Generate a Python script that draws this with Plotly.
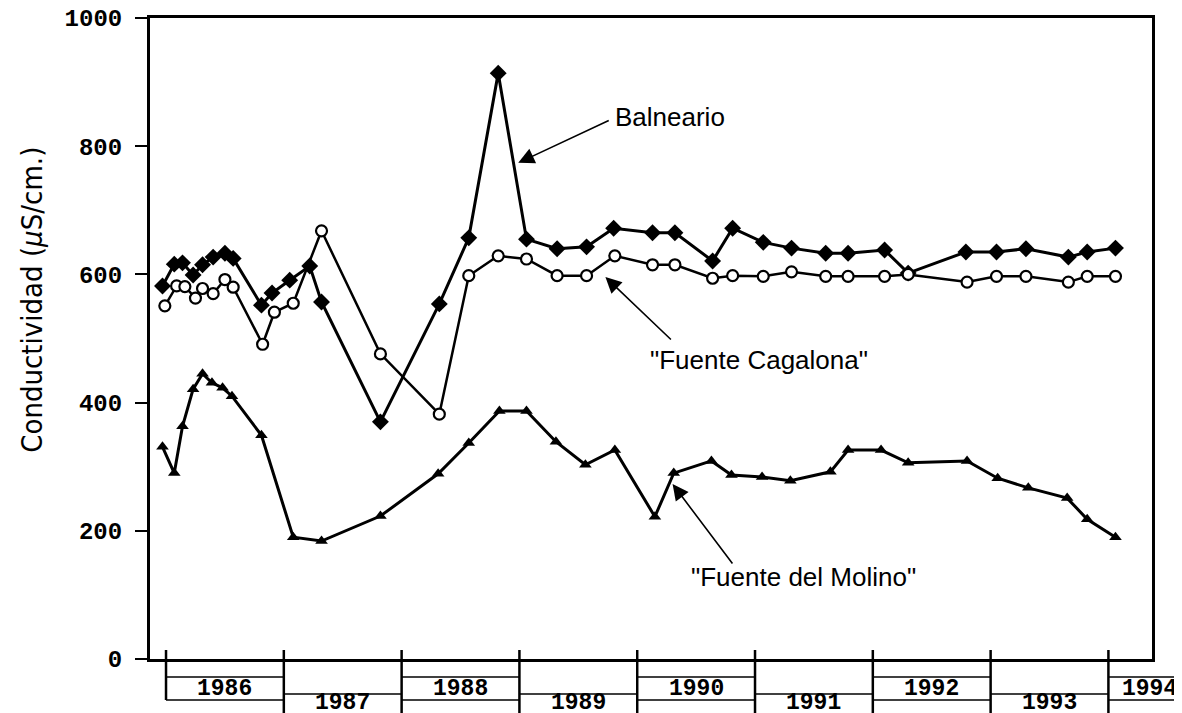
import plotly.graph_objects as go

# ---------------- data ----------------
t_balneario = [1985.97, 1986.07, 1986.14, 1986.23, 1986.31, 1986.40, 1986.50, 1986.57,
               1986.81, 1986.90, 1987.05, 1987.22, 1987.32, 1987.82, 1988.32, 1988.57,
               1988.82, 1989.06, 1989.32, 1989.57, 1989.80, 1990.13, 1990.32, 1990.64,
               1990.81, 1991.07, 1991.31, 1991.60, 1991.79, 1992.10, 1992.30, 1992.79,
               1993.05, 1993.30, 1993.66, 1993.82, 1994.06]
balneario = [582, 616, 618, 599, 615, 627, 633, 625,
             552, 571, 591, 613, 557, 370, 554, 657,
             914, 655, 640, 643, 672, 665, 665, 621,
             672, 650, 641, 633, 633, 638, 602, 635,
             635, 640, 627, 635, 641]

t_cagalona = [1985.99, 1986.09, 1986.16, 1986.25, 1986.31, 1986.40, 1986.50, 1986.57,
              1986.82, 1986.92, 1987.08, 1987.32, 1987.82, 1988.32, 1988.57, 1988.82,
              1989.06, 1989.32, 1989.57, 1989.81, 1990.13, 1990.32, 1990.64, 1990.81,
              1991.07, 1991.31, 1991.60, 1991.79, 1992.10, 1992.30, 1992.80, 1993.05,
              1993.30, 1993.66, 1993.82, 1994.06]
cagalona = [551, 582, 581, 563, 578, 570, 592, 580,
            491, 541, 555, 668, 476, 382, 598, 629,
            624, 598, 598, 629, 615, 615, 594, 598,
            597, 604, 597, 597, 597, 600, 588, 597,
            597, 588, 597, 597]

t_molino = [1985.97, 1986.07, 1986.14, 1986.23, 1986.31, 1986.39, 1986.48, 1986.56,
            1986.81, 1987.08, 1987.32, 1987.82, 1988.31, 1988.57, 1988.83, 1989.06,
            1989.31, 1989.56, 1989.81, 1990.15, 1990.31, 1990.63, 1990.80, 1991.06,
            1991.30, 1991.64, 1991.79, 1992.07, 1992.30, 1992.80, 1993.06, 1993.32,
            1993.65, 1993.82, 1994.06]
molino = [331, 290, 363, 421, 445, 431, 423, 410,
          349, 190, 184, 223, 289, 337, 387, 387,
          339, 303, 326, 222, 290, 309, 287, 284,
          278, 292, 326, 326, 306, 309, 282, 267,
          251, 218, 190]

years = [1986, 1987, 1988, 1989, 1990, 1991, 1992, 1993, 1994]
year_labels = ["1986", "1987", "1988", "1989", "1990", "1991", "1992", "1993", "1994"]
y_ticks = [0, 200, 400, 600, 800, 1000]

# ---------------- figure ----------------
XMIN, XMAX = 1985.864, 1994.370
BLACK = "black"

fig = go.Figure()
fig.add_trace(go.Scatter(
    x=t_balneario, y=balneario, mode="lines+markers", name="Balneario",
    line=dict(color=BLACK, width=3),
    marker=dict(symbol="diamond", size=13, color=BLACK)))
fig.add_trace(go.Scatter(
    x=t_cagalona, y=cagalona, mode="lines+markers", name="Fuente Cagalona",
    line=dict(color=BLACK, width=2.5),
    marker=dict(symbol="circle", size=11, color="white", line=dict(color=BLACK, width=2.2))))
fig.add_trace(go.Scatter(
    x=t_molino, y=molino, mode="lines+markers", name="Fuente del Molino",
    line=dict(color=BLACK, width=3),
    marker=dict(symbol="triangle-up", size=11, color=BLACK)))

# plot area: 150..1152 px horizontally, 18..659 px vertically (page pixels)
H_PLOT = 641.0
def py(px):
    """page pixel row -> paper y"""
    return (659 - px) / H_PLOT

YEAR_FONT = dict(family="Liberation Mono, Courier New, monospace", size=23, color=BLACK, weight="bold")

shapes = []
annotations = []
for i, (yr, lab) in enumerate(zip(years, year_labels)):
    row_a = (i % 2 == 0)
    bottom = py(700) if i == 0 else -0.2
    shapes.append(dict(type="line", xref="x", yref="paper", x0=yr, x1=yr,
                       y0=py(650), y1=bottom, line=dict(color=BLACK, width=2.5)))
    if yr != years[-1]:
        x1 = yr + 1
        if row_a:
            for yy in (677, 700):
                shapes.append(dict(type="line", xref="x", yref="paper", x0=yr, x1=x1,
                                   y0=py(yy), y1=py(yy), line=dict(color=BLACK, width=1.5)))
            annotations.append(dict(x=yr + 0.5, y=py(688.5), xref="x", yref="paper", text=lab,
                                    showarrow=False, yanchor="middle", font=YEAR_FONT))
        else:
            shapes.append(dict(type="line", xref="x", yref="paper", x0=yr, x1=x1,
                               y0=py(694), y1=py(694), line=dict(color=BLACK, width=1.5)))
            annotations.append(dict(x=yr + 0.5, y=py(703), xref="x", yref="paper", text=lab,
                                    showarrow=False, yanchor="middle", font=YEAR_FONT))
    else:
        # last year box runs off the right edge of the picture
        xp0 = (yr - XMIN) / (XMAX - XMIN)
        for yy in (677, 700):
            shapes.append(dict(type="line", xref="paper", yref="paper", x0=xp0, x1=1.05,
                               y0=py(yy), y1=py(yy), line=dict(color=BLACK, width=1.5)))
        annotations.append(dict(x=XMAX, y=py(688.5), xref="x", yref="paper", text=lab,
                                showarrow=False, yanchor="middle", xshift=-3, font=YEAR_FONT))

LABEL_FONT = dict(family="Liberation Sans, Arial, sans-serif", size=26, color=BLACK)
ARROW = dict(showarrow=True, arrowhead=2, arrowsize=2.0, arrowwidth=1.6, arrowcolor=BLACK,
             axref="pixel", ayref="pixel", xref="x", yref="y")

# Balneario
annotations.append(dict(x=1988.99, y=774, ax=92, ay=-43, text="", **ARROW))
annotations.append(dict(x=1990.28, y=845, text="Balneario", showarrow=False, font=LABEL_FONT,
                        xref="x", yref="y"))
# Fuente Cagalona
annotations.append(dict(x=1989.73, y=596, ax=67, ay=64, text="", **ARROW))
annotations.append(dict(x=1991.03, y=466, text='"Fuente Cagalona"', showarrow=False, font=LABEL_FONT,
                        xref="x", yref="y"))
# Fuente del Molino
annotations.append(dict(x=1990.30, y=273, ax=61, ay=81, text="", **ARROW))
annotations.append(dict(x=1991.41, y=128, text='"Fuente del Molino"', showarrow=False, font=LABEL_FONT,
                        xref="x", yref="y"))

# y-axis title
annotations.append(dict(x=-0.118, y=0.56, xref="paper", yref="paper", textangle=-90,
                        xanchor="center", yanchor="middle",
                        text="Conductividad (<i>μ</i>S/cm.)", showarrow=False,
                        font=dict(family="Liberation Sans Narrow, DejaVu Sans Condensed, sans-serif",
                                  size=29, color=BLACK)))

# the page body has an 8px margin, so the figure is 8px smaller than the window
fig.update_layout(
    width=1174, height=705,
    margin=dict(l=142, r=30, t=10, b=54, autoexpand=False),
    plot_bgcolor="white", paper_bgcolor="white",
    showlegend=False,
    shapes=shapes, annotations=annotations,
    xaxis=dict(range=[XMIN, XMAX], showticklabels=False, ticks="", showgrid=False,
               automargin=False,
               zeroline=False, showline=True, linewidth=3, linecolor=BLACK, mirror=True),
    yaxis=dict(range=[0, 1000], tickvals=y_ticks, ticks="outside", ticklen=12, tickwidth=2,
               automargin=False, ticklabeloverflow="allow",
               tickcolor=BLACK, showgrid=False, zeroline=False, showline=True, linewidth=3,
               linecolor=BLACK, mirror=True, ticklabelstandoff=8,
               tickfont=dict(family="Liberation Mono, Courier New, monospace", size=24,
                             color=BLACK, weight="bold")),
)

fig.write_html("out.html")
